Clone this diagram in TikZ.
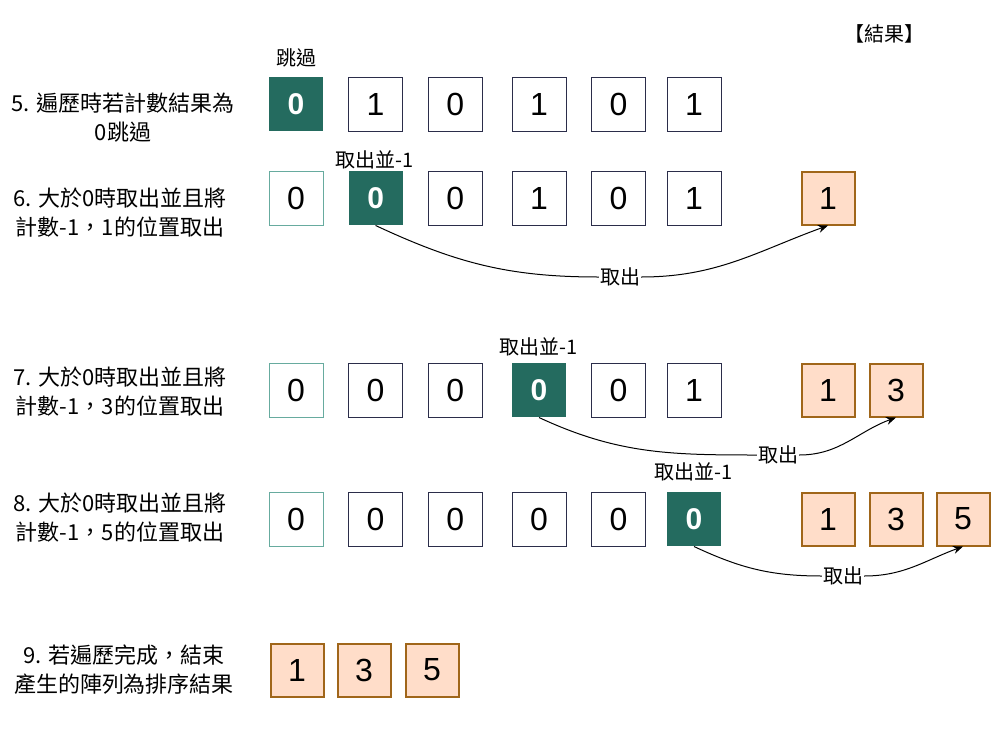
\documentclass[tikz,border=0pt]{standalone}
\usepackage{fontspec}
\setmainfont{Liberation Sans}
\newfontfamily\cjk{Noto Sans CJK TC}
\usetikzlibrary{arrows.meta}
\definecolor{darkteal}{HTML}{246B5F}
\definecolor{lightteal}{HTML}{67AB9F}
\definecolor{navy}{HTML}{2B2D4A}
\definecolor{peach}{HTML}{FFDDC9}
\definecolor{brownish}{HTML}{A0661A}

\begin{document}
\begin{tikzpicture}[x=1pt,y=-1pt,>={Stealth[length=10pt,width=8pt]},node distance=79.6pt,
  cell/.style={draw=navy,line width=1pt,minimum size=54pt,inner sep=0pt,font=\fontsize{32}{32}\selectfont},
  firstcell/.style={cell,draw=lightteal},
  hit/.style={cell,draw=none,fill=darkteal,text=white,font=\fontsize{30}{30}\selectfont\bfseries},
  result/.style={cell,draw=brownish,line width=2pt,fill=peach,minimum size=53pt},
  step text/.style={align=center,font=\cjk\fontsize{22}{29}\selectfont},
  small text/.style={font=\cjk\fontsize{20}{20}\selectfont,inner sep=1pt},
  take/.style={small text,fill=white}]

            \useasboundingbox (0,0) rectangle (1007,742);

            % heading
            \node[small text] (head) at (884,34) {【結果】};

            % 5
            \node[step text] (s5) at (123,118) {5. 遍歷時若計數結果為\\0跳過};
            \node[hit] (a1) at (296,104) {0};
            \node[cell] (a2) [right of = a1] {1};
            \node[cell] (a3) [right of = a2] {0};
            \node[cell] (a4) at (539,104) {1};
            \node[cell] (a5) [right of = a4] {0};
            \node[cell] (a6) at (694,104) {1};
            \node[small text] (skip) at (296,58) {跳過};

            % 6
            \node[step text] (s6) at (120,213) {6. 大於0時取出並且將\\計數-1，1的位置取出};
            \node[firstcell] (b1) at (296,198) {0};
            \node[hit] (b2) [right of = b1] {0};
            \node[cell] (b3) [right of = b2] {0};
            \node[cell] (b4) at (539,198) {1};
            \node[cell] (b5) [right of = b4] {0};
            \node[cell] (b6) at (694,198) {1};
            \node[result] (r6a) at (828,198) {1};
            \node[small text] (m6) at (375,160) {取出並-1};
            \node[take] (t6) at (620,277) {取出};

            % 7
            \node[step text] (s7) at (120,392) {7. 大於0時取出並且將\\計數-1，3的位置取出};
            \node[firstcell] (c1) at (296,390) {0};
            \node[cell] (c2) [right of = c1] {0};
            \node[cell] (c3) [right of = c2] {0};
            \node[hit] (c4) at (539,390) {0};
            \node[cell] (c5) [right of = c4] {0};
            \node[cell] (c6) at (694,390) {1};
            \node[result] (r7a) at (828,390) {1};
            \node[result] (r7b) at (896,390) {3};
            \node[small text] (m7) at (539,347) {取出並-1};
            \node[take] (t7) at (778,455) {取出};

            % 8
            \node[step text] (s8) at (120,518) {8. 大於0時取出並且將\\計數-1，5的位置取出};
            \node[firstcell] (d1) at (296,519) {0};
            \node[cell] (d2) [right of = d1] {0};
            \node[cell] (d3) [right of = d2] {0};
            \node[cell] (d4) at (539,519) {0};
            \node[cell] (d5) [right of = d4] {0};
            \node[hit] (d6) at (694,519) {0};
            \node[result] (r8a) at (828,519) {1};
            \node[result] (r8b) at (896,519) {3};
            \node[result] (r8c) at (963,519) {5};
            \node[small text] (m8) at (694,472) {取出並-1};
            \node[take] (t8) at (843,576) {取出};

            % 9
            \node[step text] (s9) at (124,670) {9. 若遍歷完成，結束\\產生的陣列為排序結果};
            \node[result] (e1) at (297,670) {1};
            \node[result] (e2) at (364,670) {3};
            \node[result] (e3) at (432,670) {5};

            \draw[line width=1pt] (b2.south) to[out=-25,in=180] (t6);
            \draw[->,line width=1pt] (t6) to[out=0,in=-160] (r6a.south);
            \draw[line width=1pt] (c4.south) to[out=-25,in=180] (t7);
            \draw[->,line width=1pt] (t7) to[out=0,in=-160] (r7b.south);
            \draw[line width=1pt] (d6.south) to[out=-25,in=180] (t8);
            \draw[->,line width=1pt] (t8) to[out=0,in=-160] (r8c.south);

            ;
        \end{tikzpicture}
\end{document}
